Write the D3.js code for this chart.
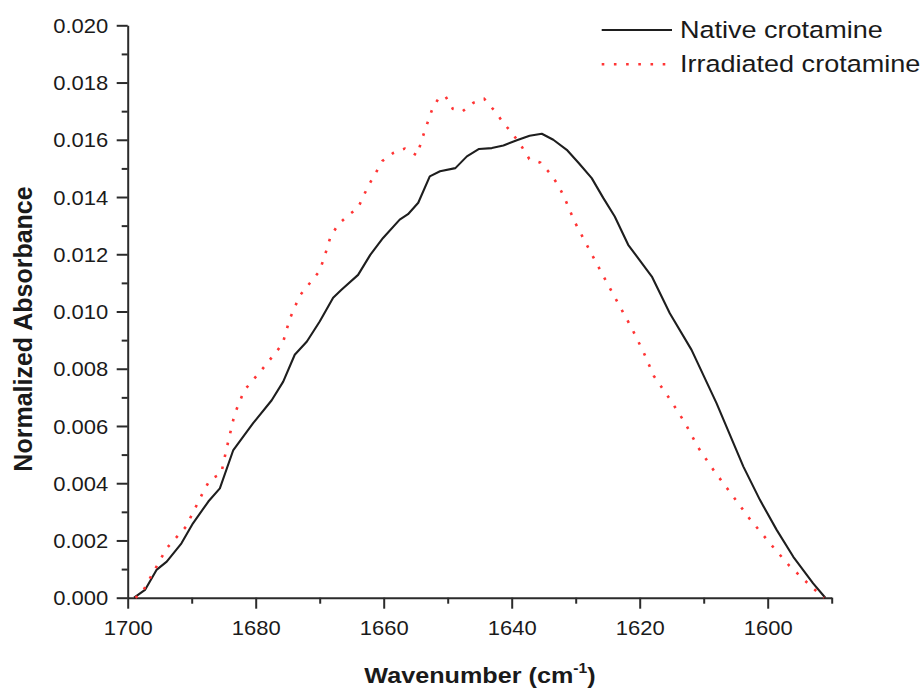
<!DOCTYPE html>
<html>
<head>
<meta charset="utf-8">
<script src="https://cdn.jsdelivr.net/npm/d3@7/dist/d3.min.js"></script>
<style>
  html, body { margin: 0; padding: 0; background: #fff; }
  svg { display: block; }
  text { font-family: "Liberation Sans", Arial, Helvetica, sans-serif; fill: #1a1a1a; }
</style>
</head>
<body>
<svg id="chart" width="921" height="692"></svg>
<script>
// ---- Data ----
const nativeWavenumber = [1699.0, 1697.3, 1695.5, 1693.9, 1691.6, 1689.8, 1687.4, 1685.6, 1683.5, 1680.4,
  1677.5, 1675.7, 1673.9, 1672.0, 1670.0, 1667.9, 1666.6, 1664.0, 1662.1, 1660.1, 1657.5, 1656.2, 1654.6,
  1652.8, 1651.2, 1648.8, 1647.0, 1645.1, 1643.1, 1641.3, 1639.2, 1637.2, 1635.3, 1633.5, 1631.4, 1629.5,
  1627.5, 1625.7, 1623.9, 1621.8, 1618.1, 1615.3, 1611.9, 1608.0, 1603.8, 1601.2, 1598.6, 1596.0, 1592.9, 1591.0];
const nativeAbsorbance = [0.0, 0.00027, 0.00097, 0.00126, 0.0019, 0.0026, 0.00336, 0.00382, 0.00516, 0.0061,
  0.0069, 0.00755, 0.00849, 0.00895, 0.00965, 0.01048, 0.01076, 0.01128, 0.01198, 0.01257, 0.01321, 0.0134, 0.0138,
  0.01472, 0.0149, 0.01501, 0.01542, 0.01568, 0.01571, 0.0158, 0.01598, 0.01614, 0.01621, 0.0160, 0.01565, 0.01518,
  0.01466, 0.01397, 0.01332, 0.01233, 0.01122, 0.00994, 0.00866, 0.0068, 0.00458, 0.00341, 0.00237, 0.00143, 0.0005, 0.0];

const irradiatedWavenumber = [1698.8, 1697.8, 1696.0, 1693.9, 1690.9, 1688.1, 1687.1, 1685.4, 1684.6, 1683.3,
  1681.8, 1678.7, 1675.8, 1674.7, 1673.1, 1670.1, 1669.4, 1668.3, 1667.1, 1665.5, 1664.0, 1663.2, 1662.25,
  1661.2, 1660.2, 1658.5, 1656.7, 1654.8, 1653.7, 1652.4, 1651.3, 1650.3, 1649.2, 1647.7, 1646.0, 1644.3,
  1642.6, 1641.3, 1639.75, 1638.4, 1637.25, 1635.5, 1633.9, 1632.7, 1631.8, 1630.2, 1627.3, 1625.3, 1623.3,
  1621.25, 1619.4, 1617.8, 1615.2, 1612.9, 1610.9, 1608.4, 1605.6, 1602.9, 1599.8, 1596.6, 1592.9, 1591.2];
const irradiatedAbsorbance = [0.0, 0.00015, 0.00089, 0.00173, 0.00248, 0.00374, 0.00414, 0.00433, 0.00516, 0.00641,
  0.00724, 0.00806, 0.00887, 0.00973, 0.01056, 0.01139, 0.01181, 0.01262, 0.01304, 0.01337, 0.01362, 0.01402, 0.01445,
  0.01486, 0.01526, 0.01554, 0.01569, 0.01545, 0.01624, 0.01708, 0.0175, 0.0175, 0.01708, 0.01699, 0.01729, 0.01743,
  0.01699, 0.01659, 0.01618, 0.01575, 0.01533, 0.0152, 0.0148, 0.0144, 0.014, 0.01315, 0.01192, 0.01108, 0.01026,
  0.00942, 0.00858, 0.00775, 0.00691, 0.0061, 0.00526, 0.00444, 0.0036, 0.00278, 0.00194, 0.00111, 0.00033, 0.0];

const seriesNames = ["Native crotamine", "Irradiated crotamine"];
const xMajorTicks = [1700, 1680, 1660, 1640, 1620, 1600];
const xMinorTicks = [1690, 1670, 1650, 1630, 1610, 1590];
const yMajorTicks = [0.000, 0.002, 0.004, 0.006, 0.008, 0.010, 0.012, 0.014, 0.016, 0.018, 0.020];
const yMinorTicks = [0.001, 0.003, 0.005, 0.007, 0.009, 0.011, 0.013, 0.015, 0.017, 0.019];
const xTitle = "Wavenumber (cm";
const xTitleSup = "-1";
const yTitle = "Normalized Absorbance";

// ---- Layout ----
const svg = d3.select("#chart");
const plotLeft = 127.7, plotRight = 831.7, plotTop = 25.3, plotBottom = 597.7;
const SX = 1.1; // horizontal stretch of text in the reference

const x = d3.scaleLinear().domain([1700, 1590]).range([plotLeft, plotRight]);
const y = d3.scaleLinear().domain([0, 0.020]).range([plotBottom, plotTop]);

const axisColor = "#2b2b2b";

// Minor ticks
svg.append("g").attr("transform", `translate(0,${plotBottom})`)
  .call(d3.axisBottom(x).tickValues(xMinorTicks).tickSize(6).tickSizeOuter(0).tickFormat(""))
  .call(g => g.select(".domain").remove());
svg.append("g").attr("transform", `translate(${plotLeft},0)`)
  .call(d3.axisLeft(y).tickValues(yMinorTicks).tickSize(6).tickSizeOuter(0).tickFormat(""))
  .call(g => g.select(".domain").remove());

// Major axes
const xAxis = svg.append("g").attr("transform", `translate(0,${plotBottom})`)
  .call(d3.axisBottom(x).tickValues(xMajorTicks).tickSize(11).tickSizeOuter(0).tickFormat(d3.format("d")));
xAxis.selectAll("text")
  .attr("y", 37.5).attr("dy", null)
  .attr("transform", `scale(${SX},1)`)
  .style("font-size", "20px");

const yAxis = svg.append("g").attr("transform", `translate(${plotLeft},0)`)
  .call(d3.axisLeft(y).tickValues(yMajorTicks).tickSize(11).tickSizeOuter(0).tickFormat(d3.format(".3f")));
yAxis.selectAll("text")
  .attr("x", -19.4 / SX).attr("dy", "0.36em")
  .attr("transform", `scale(${SX},1)`)
  .style("font-size", "20px");

svg.selectAll(".domain, .tick line").attr("stroke", axisColor).attr("stroke-width", 2);
svg.selectAll(".tick text").attr("font-family", null).attr("font-size", null).attr("fill", "#1a1a1a");

// Lines
const line = d3.line().x(d => x(d[0])).y(d => y(d[1]));
const nativeData = nativeWavenumber.map((w, i) => [w, nativeAbsorbance[i]]);
const irrData = irradiatedWavenumber.map((w, i) => [w, irradiatedAbsorbance[i]]);

svg.append("path").datum(nativeData)
  .attr("d", line).attr("fill", "none")
  .attr("stroke", "#1e1e1e").attr("stroke-width", 2.1).attr("stroke-linejoin", "round");

svg.append("path").datum(irrData)
  .attr("d", line).attr("fill", "none")
  .attr("stroke", "#ff3434").attr("stroke-width", 2.6)
  .attr("stroke-dasharray", "2.6 9.6");

// Axis titles
const xt = svg.append("g").attr("transform", `translate(480,683) scale(1.12,1)`)
  .append("text").attr("text-anchor", "middle")
  .style("font-size", "22.5px").style("font-weight", "bold");
xt.append("tspan").text(xTitle);
xt.append("tspan").attr("dy", -10).style("font-size", "14px").text(xTitleSup);
xt.append("tspan").attr("dy", 10).text(")");

svg.append("text")
  .attr("transform", "translate(32,329) rotate(-90)")
  .attr("text-anchor", "middle")
  .style("font-size", "25px").style("font-weight", "bold")
  .text(yTitle);

// Legend
const legend = [
  { name: seriesNames[0], y: 30, color: "#1e1e1e", dash: null, w: 2.2 },
  { name: seriesNames[1], y: 64.3, color: "#ff3434", dash: "2.6 9.6", w: 2.6 }
];
legend.forEach(l => {
  svg.append("line").attr("x1", 601.7).attr("x2", 672).attr("y1", l.y).attr("y2", l.y)
    .attr("stroke", l.color).attr("stroke-width", l.w)
    .attr("stroke-dasharray", l.dash);
  svg.append("g").attr("transform", `translate(680,${l.y + 7.7}) scale(1.15,1)`)
    .append("text").style("font-size", "23.5px").text(l.name);
});
</script>
</body>
</html>
